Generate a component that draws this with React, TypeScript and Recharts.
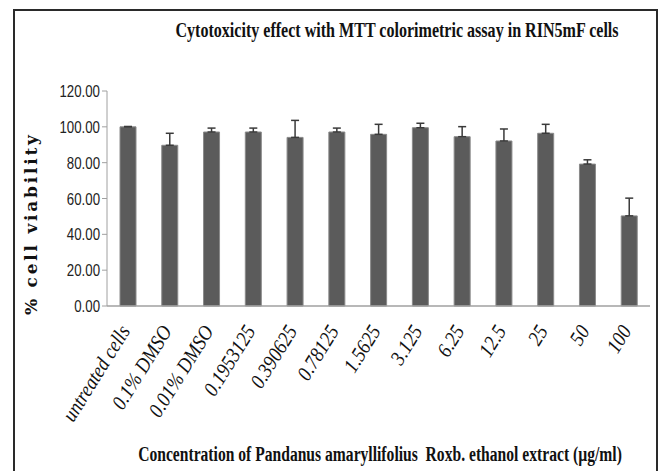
import { BarChart, Bar, XAxis, YAxis, ErrorBar, Customized } from 'recharts'

// values
const categories = [
  'untreated cells',
  '0.1% DMSO',
  '0.01% DMSO',
  '0.1953125',
  '0.390625',
  '0.78125',
  '1.5625',
  '3.125',
  '6.25',
  '12.5',
  '25',
  '50',
  '100'
]
const viability = [100, 89.7, 97.1, 97.1, 94.1, 97.1, 95.8, 99.5, 94.5, 92.1, 96.4, 79.2, 50.3]
const sd = [0.2, 6.7, 2.2, 2.2, 9.5, 2.2, 5.6, 2.5, 5.6, 6.7, 5.0, 2.4, 9.9]
const yTicks = [0, 20, 40, 60, 80, 100, 120]

const chartTitle = 'Cytotoxicity effect with MTT colorimetric assay in RIN5mF cells'
const xTitle = 'Concentration of Pandanus amaryllifolius  Roxb. ethanol extract (µg/ml)'
const yTitle = '% cell viability'

// plus-only error bars, like Excel's
const data = categories.map((name, i) => ({
  name,
  value: viability[i],
  err: [0, sd[i]]
}))

const serif = '"Liberation Serif", "Times New Roman", serif'

function XTick({ x, y, payload }: any) {
  return (
    <g transform={`translate(${x + 3},${y + 17}) rotate(-58) scale(0.88,1)`}>
      <text textAnchor="end" fontFamily={serif} fontStyle="italic" fontSize={21} fill="#111">
        {payload.value}
      </text>
    </g>
  )
}

function YTick({ x, y, payload }: any) {
  return (
    <g transform={`translate(${x},${y}) scale(0.78,1)`}>
      <text textAnchor="end" dy="0.36em" fontFamily='"Liberation Sans", Arial, sans-serif' fontSize={17} fill="#222">
        {Number(payload.value).toFixed(2)}
      </text>
    </g>
  )
}

function Titles() {
  return (
    <g fill="#111">
      <g transform="translate(397,37) scale(0.73,1)">
        <text textAnchor="middle" fontFamily={serif} fontWeight="bold" fontSize={22}>
          {chartTitle}
        </text>
      </g>
      <g transform="translate(380,461) scale(0.71,1)">
        <text textAnchor="middle" fontFamily={serif} fontWeight="bold" fontSize={22} style={{ whiteSpace: 'pre' }}>
          {xTitle}
        </text>
      </g>
      <text
        transform="translate(37,225) rotate(-90)"
        textAnchor="middle"
        fontFamily='"DejaVu Serif", serif'
        fontWeight="bold"
        fontSize={17}
        textLength={180}
        lengthAdjust="spacing"
      >
        {yTitle}
      </text>
    </g>
  )
}

export default function App() {
  return (
    <div style={{ position: 'absolute', left: 0, top: 0, width: 660, height: 471, background: '#fff' }}>
      <div
        style={{
          position: 'absolute',
          left: 13,
          top: 9,
          width: 641,
          height: 470,
          borderTop: '2px solid #2a2a2a',
          borderLeft: '2px solid #2a2a2a',
          borderRight: '2px solid #2a2a2a'
        }}
      />
      <div style={{ position: 'absolute', left: 0, top: 0 }}>
        <BarChart
          width={660}
          height={471}
          data={data}
          margin={{ top: 91, right: 10, left: 57, bottom: 35 }}
          barCategoryGap={0}
        >
          <XAxis
            dataKey="name"
            interval={0}
            height={130}
            tickLine={false}
            axisLine={{ stroke: '#a0a0a0', strokeWidth: 1.5 }}
            tick={<XTick />}
          />
          <YAxis
            width={50}
            domain={[0, 120]}
            ticks={yTicks}
            interval={0}
            tickSize={5}
            tickMargin={2}
            axisLine={{ stroke: '#a0a0a0' }}
            tickLine={{ stroke: '#a0a0a0' }}
            tick={<YTick />}
          />
          <Bar
            dataKey="value"
            fill="#5b5b5b"
            stroke="#8a8a8a"
            strokeWidth={1}
            barSize={16}
            isAnimationActive={false}
          >
            <ErrorBar dataKey="err" width={4} stroke="#3a3a3a" strokeWidth={1.5} direction="y" />
          </Bar>
          <Customized component={<Titles />} />
        </BarChart>
      </div>
    </div>
  )
}
